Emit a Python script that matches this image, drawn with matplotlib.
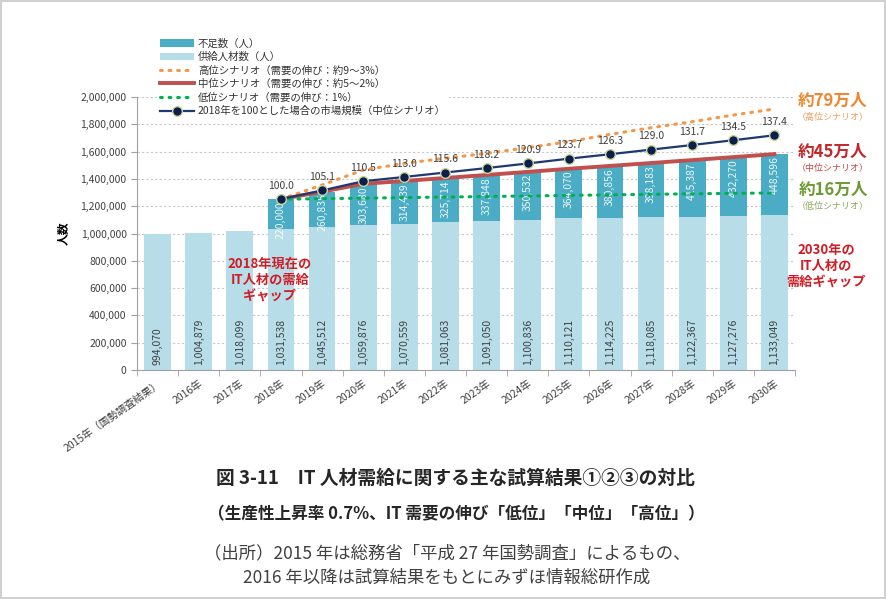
import numpy as np
import matplotlib.pyplot as plt
from matplotlib.ticker import FuncFormatter

plt.rcParams['font.family'] = ['Noto Sans CJK JP', 'DejaVu Sans']

years = ["2015年（国勢調査結果）", "2016年", "2017年", "2018年", "2019年", "2020年",
         "2021年", "2022年", "2023年", "2024年", "2025年", "2026年", "2027年",
         "2028年", "2029年", "2030年"]

supply = [994070, 1004879, 1018099, 1031538, 1045512, 1059876, 1070559, 1081063,
          1091050, 1100836, 1110121, 1114225, 1118085, 1122367, 1127276, 1133049]

# shortage (mid scenario), only from 2018
shortage = [0, 0, 0, 220000, 260835, 303680, 314439, 325714, 337848, 350532,
            364070, 380856, 398183, 415387, 432270, 448596]

# demand lines from 2018
high_demand = [1251538, 1355000, 1465000, 1514000, 1551000, 1587000, 1629000,
               1673000, 1726000, 1775000, 1819000, 1868000, 1912000]
low_demand = [1251538, 1255000, 1259000, 1263000, 1267000, 1271000, 1275000,
              1279000, 1283000, 1287000, 1291000, 1294000, 1297000]

market_index = [100.0, 105.1, 110.5, 113.0, 115.6, 118.2, 120.9, 123.7, 126.3,
                129.0, 131.7, 134.5, 137.4]

fig = plt.figure(figsize=(8.86, 5.99), dpi=100)
fig.patch.set_edgecolor('#d0d0d0')
fig.patch.set_linewidth(1.5)
ax = fig.add_axes([137 / 886, 1 - 370 / 599, (795 - 137) / 886, (370 - 97) / 599])

x = np.arange(len(years))
x18 = x[3:]
mid_demand = [s + g for s, g in zip(supply[3:], shortage[3:])]

b_supply = ax.bar(x, supply, width=0.65, color='#b7dde8', zorder=2)
b_short = ax.bar(x, shortage, width=0.65, bottom=supply, color='#4bacc6', zorder=2)

l_high, = ax.plot(x18, high_demand, color='#f79646', lw=2.2, ls=(0, (0.6, 2.2)),
                  dash_capstyle='round', zorder=4)
l_mid, = ax.plot(x18, mid_demand, color='#c0504d', lw=2.8, zorder=4)
l_low, = ax.plot(x18, low_demand, color='#00b050', lw=2.2, ls=(0, (0.6, 2.2)),
                 dash_capstyle='round', zorder=4)

# market index on a hidden twin axis, 100 = 2018 demand
ax2 = ax.twinx()
ax2.set_ylim(0, 2000000 / (mid_demand[0] / 100))
l_idx, = ax2.plot(x18, market_index, color='#1f3870', lw=1.6, marker='o',
                  markersize=7, markerfacecolor='#0d1e4d', markeredgecolor='#c4d79b',
                  markeredgewidth=1, zorder=5)
ax2.axis('off')
for xi, v in zip(x18, market_index):
    ax2.annotate(f"{v:.1f}", (xi, v), xytext=(0, 6), textcoords='offset points',
                 ha='center', va='bottom', fontsize=7.5, color='#404040')

# bar value labels
for xi, s in zip(x, supply):
    ax.text(xi, 40000, f"{s:,}", rotation=90, ha='center', va='bottom',
            fontsize=7.5, color='#404040', zorder=3)
for xi, s, g in zip(x, supply, shortage):
    if g > 0:
        ax.text(xi, s + g - 15000, f"{g:,}", rotation=90, ha='center', va='top',
                fontsize=7.5, color='white', alpha=0.9, zorder=3)

ax.set_xlim(-0.5, len(years) - 0.5)
ax.set_ylim(0, 2000000)
ax.set_yticks(np.arange(0, 2000001, 200000))
ax.yaxis.set_major_formatter(FuncFormatter(lambda v, p: f"{int(v):,}"))
ax.tick_params(axis='y', labelsize=7.5, labelcolor='#404040', length=4,
               color='#a0a0a0')
ax.grid(axis='y', color='#c8c8c8', ls=(0, (2, 2)), lw=0.8, zorder=0)
ax.set_axisbelow(True)

ax.set_xticks(x)
ax.set_xticklabels(years, rotation=35, ha='right', rotation_mode='anchor',
                   fontsize=7.5, color='#404040')
ax.set_xticks(np.arange(-0.5, len(years), 1), minor=True)
ax.tick_params(axis='x', which='major', length=0, pad=6)
ax.tick_params(axis='x', which='minor', length=4, color='#a0a0a0')

for sp in ['top', 'right']:
    ax.spines[sp].set_visible(False)
ax.spines['left'].set_color('#a0a0a0')
ax.spines['bottom'].set_color('#a0a0a0')

ax.set_ylabel("人数", fontsize=8.5, fontweight='bold', labelpad=8)

leg = fig.legend([b_short, b_supply, l_high, l_mid, l_low, l_idx],
                 ["不足数（人）", "供給人材数（人）",
                  "高位シナリオ（需要の伸び：約9～3%）",
                  "中位シナリオ（需要の伸び：約5～2%）",
                  "低位シナリオ（需要の伸び：1%）",
                  "2018年を100とした場合の市場規模（中位シナリオ）"],
                 loc='upper left', bbox_to_anchor=(152 / 886, 1 - 30 / 599),
                 fontsize=7.5, frameon=True, framealpha=1, edgecolor='none',
                 facecolor='white', handlelength=3.2, handleheight=0.7,
                 labelspacing=0.32, borderpad=0.3, handletextpad=0.4)
for t in leg.get_texts():
    t.set_color('#333333')

def fx(px):
    return px / 886

def fy(py):
    return 1 - py / 599

# right side notes
fig.text(fx(833), fy(101), "約79万人", ha='center', va='center', fontsize=12,
         fontweight='bold', color='#f0872e')
fig.text(fx(833), fy(117), "（高位シナリオ）", ha='center', va='center', fontsize=6.5,
         color='#f0a060')
fig.text(fx(833), fy(152), "約45万人", ha='center', va='center', fontsize=12,
         fontweight='bold', color='#c0282b')
fig.text(fx(833), fy(168), "（中位シナリオ）", ha='center', va='center', fontsize=6.5,
         color='#c84848')
fig.text(fx(833), fy(190), "約16万人", ha='center', va='center', fontsize=12,
         fontweight='bold', color='#6e9a32')
fig.text(fx(833), fy(206), "（低位シナリオ）", ha='center', va='center', fontsize=6.5,
         color='#8aa860')
fig.text(fx(826), fy(266), "2030年の\nIT人材の\n需給ギャップ", ha='center', va='center',
         fontsize=9.5, fontweight='bold', color='#d01c24', linespacing=1.15)
fig.text(fx(270), fy(280), "2018年現在の\nIT人材の需給\nギャップ", ha='center', va='center',
         fontsize=9.5, fontweight='bold', color='#d01c24', linespacing=1.15)

# captions
fig.text(fx(455), fy(478), "図 3-11　IT 人材需給に関する主な試算結果①②③の対比",
         ha='center', va='center', fontsize=13.5, fontweight='bold', color='#262626')
fig.text(fx(456), fy(514), "（生産性上昇率 0.7%、IT 需要の伸び「低位」「中位」「高位」）",
         ha='center', va='center', fontsize=12, fontweight='bold', color='#262626')
fig.text(fx(447), fy(553), "（出所）2015 年は総務省「平成 27 年国勢調査」によるもの、",
         ha='center', va='center', fontsize=12.5, color='#404040')
fig.text(fx(447), fy(578), "2016 年以降は試算結果をもとにみずほ情報総研作成",
         ha='center', va='center', fontsize=12.5, color='#404040')

fig.savefig("out.png", dpi=100)
